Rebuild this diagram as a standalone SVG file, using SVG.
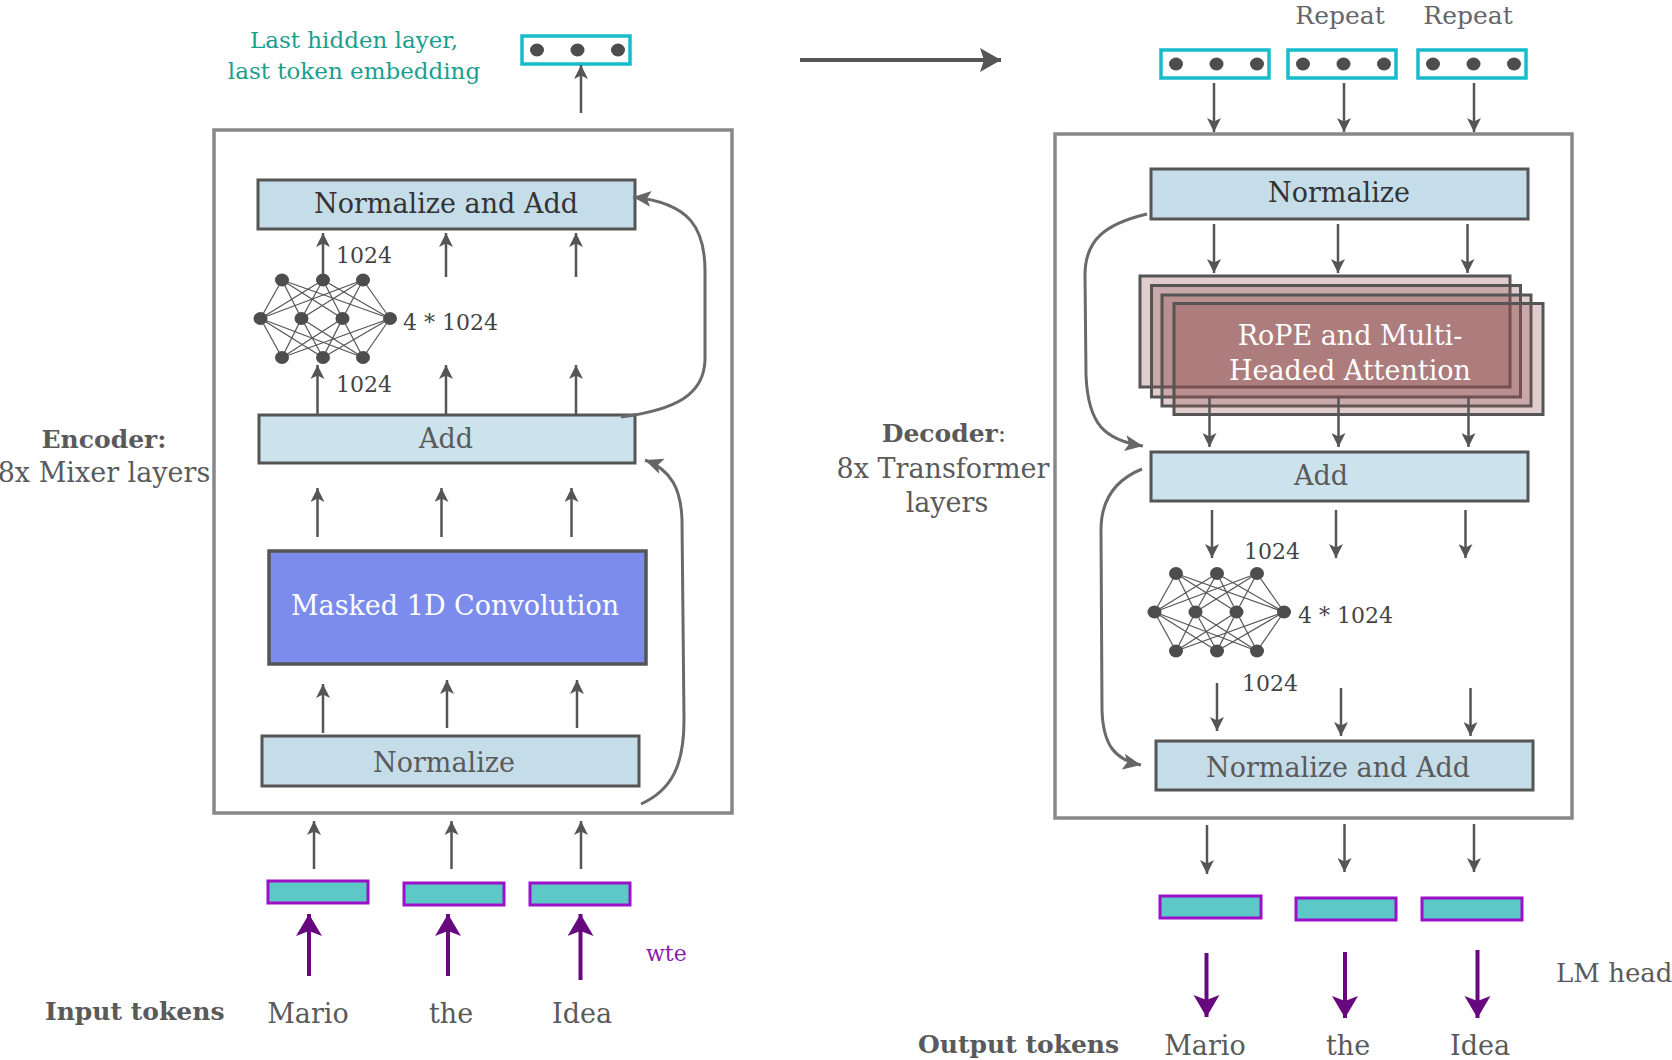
<svg xmlns="http://www.w3.org/2000/svg" width="1672" height="1060" viewBox="0 0 1672 1060">
<style>
text{font-family:"DejaVu Serif","Liberation Serif",serif;fill:#5a5a5a}
.t27{font-size:27px}
.dark{fill:#333}
.lbl{font-size:22px;fill:#444}
.bold{font-weight:bold;font-size:25px}
.teal{fill:#1a9e8e;font-size:23px}
.white{fill:#fff;font-size:27px}
.outer{fill:none;stroke:#888;stroke-width:3.5}
.norm{fill:#c5dde9;stroke:#555;stroke-width:3}
.add{fill:#cce3ee;stroke:#555;stroke-width:3}
.conv{fill:#7b8ced;stroke:#555;stroke-width:3.5}
.cyan{fill:#fff;stroke:#17bccc;stroke-width:3.5}
.emb{fill:#5cc9c6;stroke:#9c10c9;stroke-width:3}
.att{fill:#904d4d;fill-opacity:0.28;stroke:#555;stroke-width:3}
.dot{fill:#4d4d4d}
.ar{stroke:#555;stroke-width:2.5;fill:none;marker-end:url(#ag)}
.pa{stroke:#68087f;stroke-width:4;fill:none;marker-end:url(#ap)}
.cv{stroke:#6a6a6a;stroke-width:3;fill:none;marker-end:url(#ac)}
.nn line{stroke:#555;stroke-width:1.2}
</style>
<defs>
<marker id="ag" markerUnits="userSpaceOnUse" markerWidth="16" markerHeight="14" refX="14" refY="7" orient="auto"><path d="M0,0 L14,7 L0,14 L3.5,7 z" fill="#555"/></marker>
<marker id="ap" markerUnits="userSpaceOnUse" markerWidth="24" markerHeight="28" refX="22" refY="13" orient="auto"><path d="M0,0 L22,13 L0,26 L5,13 z" fill="#68087f"/></marker>
<marker id="ah" markerUnits="userSpaceOnUse" markerWidth="24" markerHeight="26" refX="21" refY="12" orient="auto"><path d="M0,0 L21,12 L0,24 L4,12 z" fill="#555"/></marker>
<marker id="ac" markerUnits="userSpaceOnUse" markerWidth="20" markerHeight="18" refX="18" refY="8" orient="auto"><path d="M0,0 L18,8 L0,16 L4,8 z" fill="#666"/></marker>
<g id="nnet" class="nn">
<line x1="0" y1="0" x2="-21.5" y2="38.5"/><line x1="0" y1="0" x2="19.5" y2="38.5"/><line x1="0" y1="0" x2="60.5" y2="38.5"/><line x1="0" y1="0" x2="108" y2="38.5"/>
<line x1="41" y1="0" x2="-21.5" y2="38.5"/><line x1="41" y1="0" x2="19.5" y2="38.5"/><line x1="41" y1="0" x2="60.5" y2="38.5"/><line x1="41" y1="0" x2="108" y2="38.5"/>
<line x1="81" y1="0" x2="-21.5" y2="38.5"/><line x1="81" y1="0" x2="19.5" y2="38.5"/><line x1="81" y1="0" x2="60.5" y2="38.5"/><line x1="81" y1="0" x2="108" y2="38.5"/>
<line x1="0" y1="77.5" x2="-21.5" y2="38.5"/><line x1="0" y1="77.5" x2="19.5" y2="38.5"/><line x1="0" y1="77.5" x2="60.5" y2="38.5"/><line x1="0" y1="77.5" x2="108" y2="38.5"/>
<line x1="41" y1="77.5" x2="-21.5" y2="38.5"/><line x1="41" y1="77.5" x2="19.5" y2="38.5"/><line x1="41" y1="77.5" x2="60.5" y2="38.5"/><line x1="41" y1="77.5" x2="108" y2="38.5"/>
<line x1="81" y1="77.5" x2="-21.5" y2="38.5"/><line x1="81" y1="77.5" x2="19.5" y2="38.5"/><line x1="81" y1="77.5" x2="60.5" y2="38.5"/><line x1="81" y1="77.5" x2="108" y2="38.5"/>
<g class="dot">
<ellipse cx="0" cy="0" rx="7" ry="6.5"/><ellipse cx="41" cy="0" rx="7" ry="6.5"/><ellipse cx="81" cy="0" rx="7" ry="6.5"/>
<ellipse cx="-21.5" cy="38.5" rx="7" ry="6.5"/><ellipse cx="19.5" cy="38.5" rx="7" ry="6.5"/><ellipse cx="60.5" cy="38.5" rx="7" ry="6.5"/><ellipse cx="108" cy="38.5" rx="7" ry="6.5"/>
<ellipse cx="0" cy="77.5" rx="7" ry="6.5"/><ellipse cx="41" cy="77.5" rx="7" ry="6.5"/><ellipse cx="81" cy="77.5" rx="7" ry="6.5"/>
</g>
</g>
<g id="vec">
<rect x="0" y="0" width="108" height="28" class="cyan"/>
<ellipse cx="15" cy="14" rx="7" ry="6.5" class="dot"/><ellipse cx="55.5" cy="14" rx="7" ry="6.5" class="dot"/><ellipse cx="96" cy="14" rx="7" ry="6.5" class="dot"/>
</g>
</defs>

<!-- ENCODER -->
<g id="encoder">
<rect class="outer" x="214" y="130" width="518" height="683"/>
<text x="104" y="448" text-anchor="middle" class="bold">Encoder:</text>
<text x="104" y="482" text-anchor="middle" class="t27">8x Mixer layers</text>
</g>
<g id="last-hidden">
<use href="#vec" x="522" y="36"/>
<text x="354" y="48" text-anchor="middle" class="teal">Last hidden layer,</text>
<text x="354" y="79" text-anchor="middle" class="teal">last token embedding</text>
</g>
<g id="enc-normadd">
<rect class="norm" x="258" y="180" width="377" height="49"/>
<text x="446" y="213" text-anchor="middle" class="t27 dark">Normalize and Add</text>
</g>
<g id="enc-mlp">
<use href="#nnet" x="282" y="280"/>
<text x="336" y="263" class="lbl">1024</text>
<text x="403" y="330" class="lbl">4 * 1024</text>
<text x="336" y="392" class="lbl">1024</text>
</g>
<g id="enc-add">
<rect class="add" x="259" y="415" width="376" height="48"/>
<text x="446" y="448" text-anchor="middle" class="t27">Add</text>
</g>
<g id="enc-conv">
<rect class="conv" x="269" y="551" width="377" height="113"/>
<text x="455" y="615" text-anchor="middle" class="white">Masked 1D Convolution</text>
</g>
<g id="enc-norm">
<rect class="norm" x="262" y="736" width="377" height="50"/>
<text x="444" y="772" text-anchor="middle" class="t27">Normalize</text>
</g>
<g id="input-emb">
<rect class="emb" x="268" y="881" width="100" height="22"/>
<rect class="emb" x="404" y="883" width="100" height="22"/>
<rect class="emb" x="530" y="883" width="100" height="22"/>
<text x="646" y="961" style="fill:#8a20b0;font-size:22px">wte</text>
</g>
<g id="input-tokens">
<text x="45" y="1020" class="bold">Input tokens</text>
<text x="308" y="1023" text-anchor="middle" class="t27">Mario</text>
<text x="451" y="1023" text-anchor="middle" class="t27">the</text>
<text x="582" y="1023" text-anchor="middle" class="t27">Idea</text>
</g>

<!-- DECODER -->
<g id="decoder">
<rect class="outer" x="1055" y="134" width="517" height="684"/>
<text x="944" y="442" text-anchor="middle" class="bold">Decoder<tspan style="font-weight:normal">:</tspan></text>
<text x="943" y="478" text-anchor="middle" class="t27">8x Transformer</text>
<text x="947" y="512" text-anchor="middle" class="t27">layers</text>
</g>
<g id="repeat-vecs">
<use href="#vec" x="1161" y="50"/>
<use href="#vec" x="1288" y="50"/>
<use href="#vec" x="1418" y="50"/>
<text x="1340" y="24" text-anchor="middle" style="font-size:25px;fill:#666">Repeat</text>
<text x="1468" y="24" text-anchor="middle" style="font-size:25px;fill:#666">Repeat</text>
</g>
<g id="dec-norm">
<rect class="norm" x="1151" y="169" width="377" height="50"/>
<text x="1339" y="202" text-anchor="middle" class="t27 dark">Normalize</text>
</g>
<g id="dec-attn">
<rect class="att" x="1140" y="276" width="370" height="111"/>
<rect class="att" x="1151.5" y="285.5" width="369" height="111.5"/>
<rect class="att" x="1162" y="295" width="369" height="111"/>
<rect class="att" x="1174" y="303.5" width="369" height="111"/>
<text x="1350" y="345" text-anchor="middle" class="white">RoPE and Multi-</text>
<text x="1350" y="380" text-anchor="middle" class="white">Headed Attention</text>
</g>
<g id="dec-add">
<rect class="add" x="1151" y="452" width="377" height="49"/>
<text x="1321" y="485" text-anchor="middle" class="t27">Add</text>
</g>
<g id="dec-mlp">
<use href="#nnet" x="1176" y="573.5"/>
<text x="1244" y="559" class="lbl">1024</text>
<text x="1298" y="623" class="lbl">4 * 1024</text>
<text x="1242" y="691" class="lbl">1024</text>
</g>
<g id="dec-normadd">
<rect class="norm" x="1156" y="741" width="377" height="49"/>
<text x="1338" y="777" text-anchor="middle" class="t27">Normalize and Add</text>
</g>
<g id="output-emb">
<rect class="emb" x="1160" y="896" width="101" height="22"/>
<rect class="emb" x="1296" y="898" width="100" height="22"/>
<rect class="emb" x="1422" y="898" width="100" height="22"/>
<text x="1556" y="982" class="t27" style="font-size:26px">LM head</text>
</g>
<g id="output-tokens">
<text x="918" y="1053" class="bold">Output tokens</text>
<text x="1205" y="1055" text-anchor="middle" class="t27">Mario</text>
<text x="1348" y="1055" text-anchor="middle" class="t27">the</text>
<text x="1480" y="1055" text-anchor="middle" class="t27">Idea</text>
</g>

<!-- CONNECTORS -->
<g id="connectors">
<line x1="800" y1="60" x2="1001" y2="60" stroke="#555" stroke-width="4" marker-end="url(#ah)"/>
<!-- encoder -->
<line class="ar" x1="581" y1="113" x2="581" y2="65"/>
<line class="ar" x1="323" y1="275" x2="323" y2="233"/>
<line class="ar" x1="446" y1="277" x2="446" y2="233"/>
<line class="ar" x1="576" y1="277" x2="576" y2="233"/>
<line class="ar" x1="317.5" y1="415" x2="317.5" y2="365"/>
<line class="ar" x1="446" y1="415" x2="446" y2="365"/>
<line class="ar" x1="576" y1="415" x2="576" y2="365"/>
<line class="ar" x1="317.5" y1="537" x2="317.5" y2="488"/>
<line class="ar" x1="441.5" y1="537" x2="441.5" y2="488"/>
<line class="ar" x1="571.5" y1="537" x2="571.5" y2="488"/>
<line class="ar" x1="323" y1="733" x2="323" y2="684"/>
<line class="ar" x1="447" y1="728" x2="447" y2="680"/>
<line class="ar" x1="577" y1="728" x2="577" y2="680"/>
<line class="ar" x1="314" y1="869" x2="314" y2="821"/>
<line class="ar" x1="451.5" y1="869" x2="451.5" y2="821"/>
<line class="ar" x1="581" y1="869" x2="581" y2="821"/>
<line class="pa" x1="309" y1="976" x2="309" y2="914"/>
<line class="pa" x1="448" y1="976" x2="448" y2="914"/>
<line class="pa" x1="580.5" y1="980" x2="580.5" y2="914"/>
<path class="cv" d="M621 417 C675 410 704 395 705 360 L705 275 C706 228 690 203 633 197"/>
<path class="cv" d="M641 804 C672 790 684 765 684 720 L682 520 C681 490 672 470 645 460"/>
<!-- decoder -->
<line class="ar" x1="1214" y1="83" x2="1214" y2="132"/>
<line class="ar" x1="1344" y1="83" x2="1344" y2="132"/>
<line class="ar" x1="1474" y1="83" x2="1474" y2="132"/>
<line class="ar" x1="1214" y1="224" x2="1214" y2="273"/>
<line class="ar" x1="1338" y1="224" x2="1338" y2="273"/>
<line class="ar" x1="1467.5" y1="224" x2="1467.5" y2="273"/>
<line class="ar" x1="1209.5" y1="398" x2="1209.5" y2="447"/>
<line class="ar" x1="1338.5" y1="398" x2="1338.5" y2="447"/>
<line class="ar" x1="1468.5" y1="398" x2="1468.5" y2="447"/>
<line class="ar" x1="1212" y1="510" x2="1212" y2="558"/>
<line class="ar" x1="1336" y1="510" x2="1336" y2="558"/>
<line class="ar" x1="1465.5" y1="510" x2="1465.5" y2="558"/>
<line class="ar" x1="1217" y1="683" x2="1217" y2="731"/>
<line class="ar" x1="1341" y1="688" x2="1341" y2="736"/>
<line class="ar" x1="1470.5" y1="688" x2="1470.5" y2="736"/>
<line class="ar" x1="1207" y1="825" x2="1207" y2="874"/>
<line class="ar" x1="1344.5" y1="824" x2="1344.5" y2="872"/>
<line class="ar" x1="1474" y1="824" x2="1474" y2="872"/>
<line class="pa" x1="1206.5" y1="953" x2="1206.5" y2="1017"/>
<line class="pa" x1="1345" y1="952" x2="1345" y2="1018"/>
<line class="pa" x1="1477.5" y1="950" x2="1477.5" y2="1018"/>
<path class="cv" d="M1147 214 C1105 224 1085 240 1085 275 L1086 375 C1088 425 1105 440 1143 446"/>
<path class="cv" d="M1142 469 C1115 480 1101 500 1101 530 L1102 710 C1103 745 1115 760 1141 765"/>
</g>
</svg>
